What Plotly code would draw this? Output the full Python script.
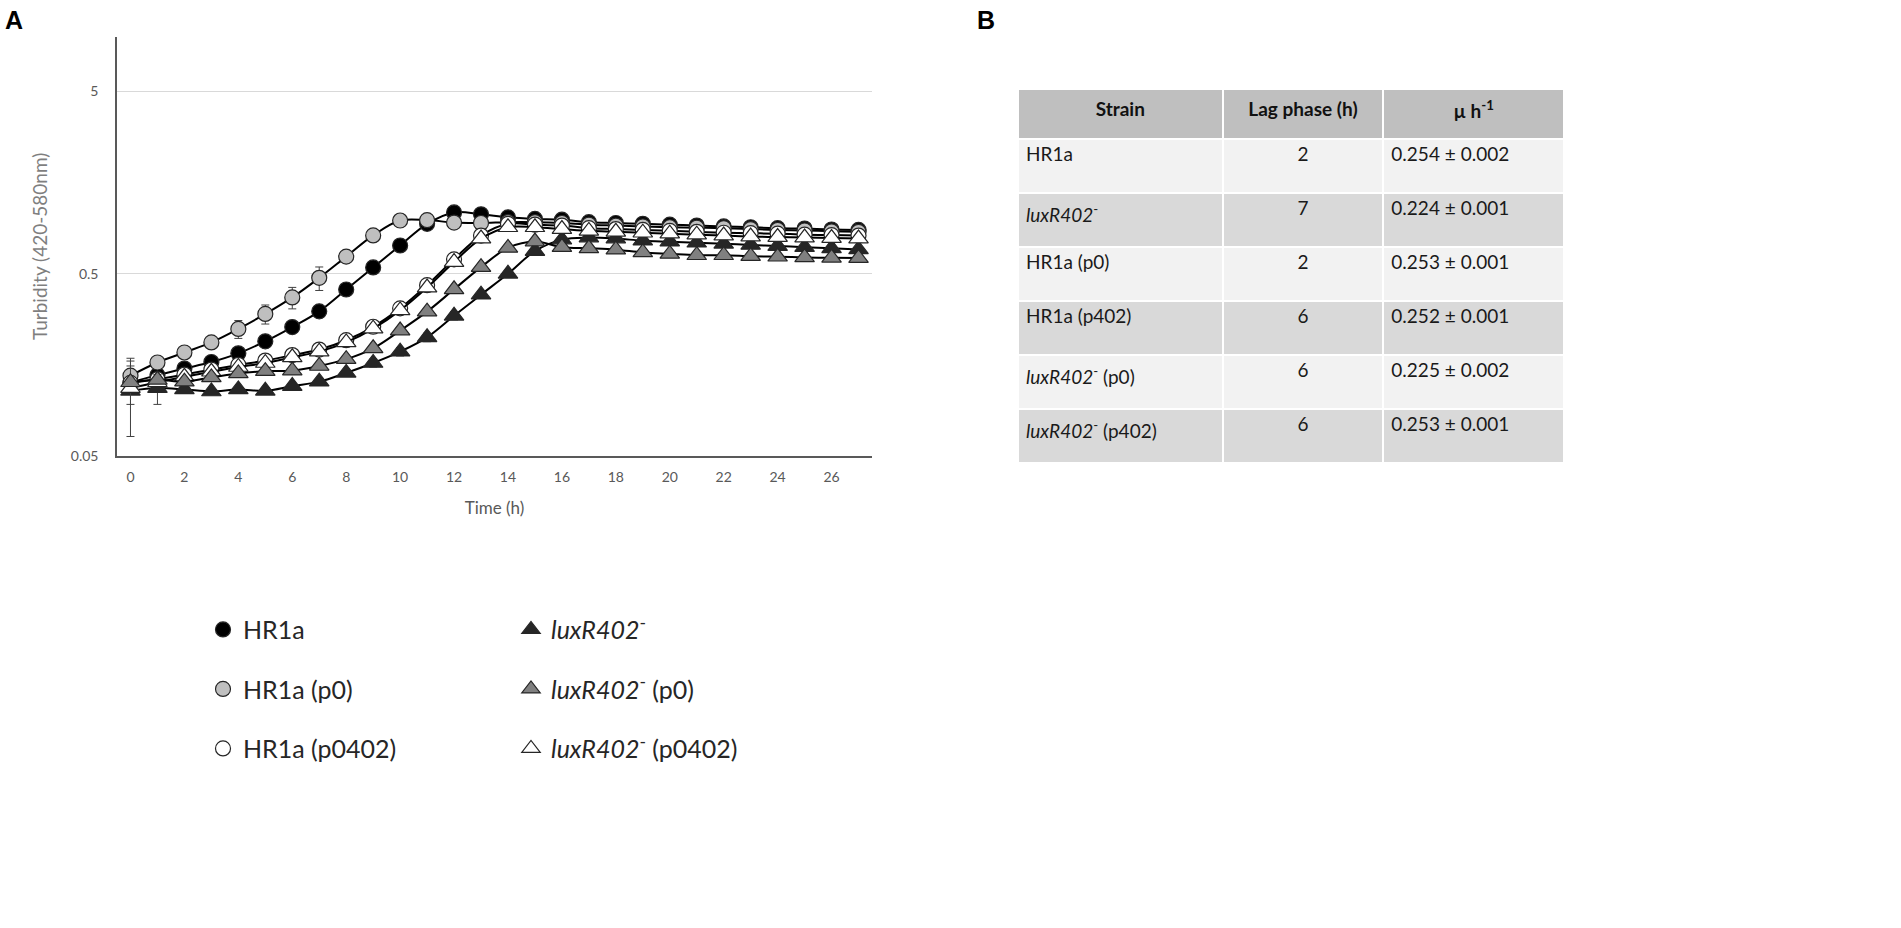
import plotly.graph_objects as go

# growth curves
time_h = list(range(28))

hr1a = [0.127, 0.139, 0.151, 0.164, 0.183, 0.213, 0.255, 0.311, 0.410, 0.542, 0.715, 0.94, 1.086, 1.06,
        1.02, 1.00, 0.99, 0.96, 0.95, 0.94, 0.93, 0.92, 0.91, 0.90, 0.89, 0.885, 0.875, 0.87]
hr1a_p0 = [0.138, 0.163, 0.185, 0.210, 0.249, 0.301, 0.371, 0.475, 0.621, 0.812, 0.98, 0.985, 0.955, 0.95,
           0.96, 0.96, 0.95, 0.93, 0.92, 0.91, 0.90, 0.895, 0.89, 0.88, 0.87, 0.865, 0.855, 0.85]
hr1a_p0402 = [0.126, 0.132, 0.140, 0.149, 0.158, 0.167, 0.179, 0.192, 0.216, 0.256, 0.323, 0.433, 0.60, 0.81,
              0.94, 0.93, 0.92, 0.89, 0.88, 0.87, 0.86, 0.85, 0.84, 0.835, 0.83, 0.82, 0.815, 0.81]
lux = [0.114, 0.118, 0.116, 0.113, 0.116, 0.114, 0.121, 0.128, 0.143, 0.162, 0.187, 0.224, 0.294, 0.384,
       0.50, 0.666, 0.77, 0.79, 0.78, 0.76, 0.75, 0.74, 0.73, 0.72, 0.71, 0.70, 0.69, 0.68]
lux_p0 = [0.127, 0.131, 0.128, 0.135, 0.142, 0.146, 0.147, 0.156, 0.170, 0.195, 0.244, 0.31, 0.411, 0.544,
          0.693, 0.751, 0.70, 0.69, 0.678, 0.655, 0.643, 0.632, 0.632, 0.625, 0.62, 0.615, 0.612, 0.61]
lux_p0402 = [0.118, 0.127, 0.136, 0.145, 0.154, 0.162, 0.174, 0.187, 0.210, 0.250, 0.315, 0.42, 0.58, 0.78,
             0.90, 0.90, 0.88, 0.86, 0.85, 0.84, 0.83, 0.82, 0.81, 0.80, 0.795, 0.79, 0.785, 0.78]

# standard deviations (only the visible ones)
hr1a_err = [0] * 28
hr1a_p0_err = [0.028, 0.006, 0.006, 0.01, 0.028, 0.036, 0.05, 0.07] + [0] * 20
hr1a_p0402_err = [0.03] + [0] * 27
lux_err = [0, 0.022, 0, 0, 0, 0, 0, 0, 0, 0.008, 0.01, 0.012, 0.015, 0.015] + [0] * 14
lux_p0_err = [0] * 28
lux_p0402_err = [0.054] + [0] * 27

names = ["HR1a", "HR1a (p0)", "HR1a (p0402)",
         "<i>luxR402</i><sup>-</sup>", "<i>luxR402</i><sup>-</sup> (p0402)", "<i>luxR402</i><sup>-</sup> (p0)"]
values = [hr1a, hr1a_p0, hr1a_p0402, lux, lux_p0402, lux_p0]
errors = [hr1a_err, hr1a_p0_err, hr1a_p0402_err, lux_err, lux_p0402_err, lux_p0_err]

y_ticks = [0.05, 0.5, 5]
x_ticks = list(range(0, 27, 2))

# table B
strains = ["HR1a", "<i>luxR402</i><sup>-</sup>", "HR1a (p0)", "HR1a (p402)",
           "<i>luxR402</i><sup>-</sup> (p0)", "<i>luxR402</i><sup>-</sup> (p402)"]
lag_phase = [2, 7, 2, 6, 6, 6]
mu = [0.254, 0.224, 0.253, 0.252, 0.225, 0.253]
mu_sd = [0.002, 0.001, 0.001, 0.001, 0.002, 0.001]

# styles
symbols = ["circle", "circle", "circle", "triangle-up", "triangle-up", "triangle-up"]
fills = ["#000000", "#bfbfbf", "#ffffff", "#262626", "#ffffff", "#808080"]
legends = ["legend", "legend", "legend", "legend2", "legend2", "legend2"]
ranks = [1, 2, 3, 1, 3, 2]
sizes = [15, 15, 15, 17, 17, 17]

W, H = 1901, 928
FONT = "Lato, 'Open Sans', sans-serif"

fig = go.Figure()

for i in range(len(names)):
    fig.add_trace(go.Scatter(
        x=time_h, y=values[i], mode="lines",
        line=dict(color="black", width=2, shape="spline", smoothing=1),
        showlegend=False, hoverinfo="skip"))
    fig.add_trace(go.Scatter(
        x=time_h, y=values[i], mode="markers", name=names[i],
        marker=dict(symbol=symbols[i], size=sizes[i], color=fills[i],
                    line=dict(color="#262626", width=1.2)),
        error_y=dict(type="data", array=errors[i], color="#404040", thickness=1, width=4),
        legend=legends[i], legendgroup=f"g{i}", legendrank=ranks[i]))

fig.add_trace(go.Table(
    domain=dict(x=[1018 / W, 1565 / W], y=[1 - 468 / H, 1 - 90 / H]),
    columnwidth=[205, 161, 181],
    header=dict(values=["<b>Strain</b>", "<b>Lag phase (h)</b>", "<b>µ h<sup>-1</sup></b>"],
                fill_color="#bfbfbf", align="center", height=50,
                line=dict(color="white", width=2),
                font=dict(family=FONT, size=19, color="#111111")),
    cells=dict(values=[strains, lag_phase, [f"{m:.3f} ± {s:.3f}" for m, s in zip(mu, mu_sd)]],
               fill_color=[["#f2f2f2", "#d9d9d9"] * 3] * 3,
               align=["left", "center", "left"], height=54,
               line=dict(color="white", width=2),
               font=dict(family=FONT, size=19, color="#1a1a1a"))))

legend_style = dict(xanchor="left", yanchor="top", bgcolor="rgba(0,0,0,0)",
                    font=dict(family=FONT, size=25, color="#262626"),
                    traceorder="grouped", tracegroupgap=24, itemsizing="trace")

fig.update_layout(
    width=W, height=H,
    margin=dict(l=0, r=0, t=0, b=0),
    paper_bgcolor="white", plot_bgcolor="white",
    font=dict(family=FONT, color="#595959"),
    xaxis=dict(domain=[117 / W, 872 / W], range=[-0.5, 27.5],
               tickvals=x_ticks, ticks="", showgrid=False,
               showline=True, linecolor="#595959", linewidth=1.5,
               tickfont=dict(size=14, color="#595959"), ticklabelstandoff=7,
               title=dict(text="Time (h)", font=dict(size=17, color="#595959"), standoff=19),
               zeroline=False),
    yaxis=dict(domain=[1 - 460 / H, 1 - 37 / H], type="log", range=[-1.30103, 1],
               tickvals=y_ticks, ticktext=[str(v) for v in y_ticks], ticks="",
               showgrid=True, gridcolor="#d9d9d9", gridwidth=1.2,
               showline=True, linecolor="#595959", linewidth=1.5,
               tickfont=dict(size=14, color="#595959"), ticklabelstandoff=14,
               title=dict(text="Turbidity (420-580nm)", font=dict(size=19, color="#7f7f7f"), standoff=18),
               zeroline=False),
    legend=dict(x=203 / W, y=1 - 612 / H, **legend_style),
    legend2=dict(x=511 / W, y=1 - 612 / H, **legend_style),
    annotations=[
        dict(text="<b>A</b>", x=3 / W, y=1 - 4 / H, xref="paper", yref="paper",
             xanchor="left", yanchor="top", showarrow=False,
             font=dict(family="Liberation Sans, Arial", size=25, color="black")),
        dict(text="<b>B</b>", x=975 / W, y=1 - 4 / H, xref="paper", yref="paper",
             xanchor="left", yanchor="top", showarrow=False,
             font=dict(family="Liberation Sans, Arial", size=25, color="black")),
    ],
)

fig.write_html("out.html", config={"displayModeBar": False},
               post_script="document.body.style.margin='0';document.body.style.overflow='hidden';")
